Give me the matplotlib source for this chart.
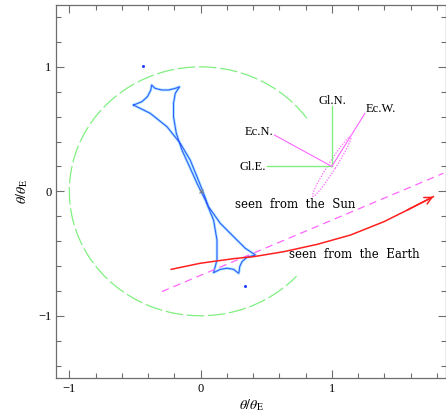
import numpy as np
import matplotlib
matplotlib.use("Agg")
import matplotlib.pyplot as plt
from matplotlib.patches import Arc, Ellipse

plt.rcParams['font.family'] = ['Liberation Serif', 'DejaVu Serif']
plt.rcParams['mathtext.fontset'] = 'stix'

# ---- data (units of theta_E) ----
# caustic: top cusps L -> T -> R
cau_top_x = [-0.511, -0.447, -0.405, -0.379, -0.373, -0.346, -0.295, -0.244, -0.193, -0.160]
cau_top_y = [0.693, 0.720, 0.760, 0.814, 0.854, 0.827, 0.814, 0.814, 0.827, 0.840]
# long edge from cusp R down to bottom-left cusp
cau_r_x = [-0.160, -0.193, -0.206, -0.206, -0.185, -0.142, -0.084, -0.027, 0.036, 0.099, 0.125, 0.125, 0.099]
cau_r_y = [0.840, 0.787, 0.707, 0.599, 0.466, 0.332, 0.198, 0.064, -0.070, -0.231, -0.391, -0.552, -0.654]
# bottom cusps BL -> BM -> BR
cau_bot_x = [0.099, 0.150, 0.202, 0.252, 0.290, 0.294, 0.298, 0.316, 0.354, 0.418]
cau_bot_y = [-0.654, -0.627, -0.618, -0.627, -0.659, -0.646, -0.606, -0.565, -0.530, -0.512]
# long edge from bottom-right cusp back up to cusp L
cau_l_x = [0.418, 0.341, 0.252, 0.150, 0.061, 0.023, -0.027, -0.079, -0.155, -0.256, -0.384, -0.511]
cau_l_y = [-0.512, -0.458, -0.365, -0.257, -0.124, -0.016, 0.117, 0.251, 0.386, 0.519, 0.627, 0.693]

lens_x = [-0.44, 0.336]
lens_y = [1.006, -0.758]

# source trajectory seen from the Earth
earth_x = [-0.224, -0.002, 0.252, 0.405, 0.634, 0.889, 1.143, 1.397, 1.576, 1.774]
earth_y = [-0.627, -0.578, -0.541, -0.525, -0.485, -0.426, -0.351, -0.244, -0.150, -0.043]
# seen from the Sun (straight)
sun_x = [-0.295, 1.850]
sun_y = [-0.806, 0.145]

# Einstein ring arc (degrees)
ring_from, ring_to = 36, 317

# direction cross
origin = (1.0, 0.2)
gl_n = (1.0, 0.685)
gl_e = (0.507, 0.2)
ec_n = (0.563, 0.452)
ec_w = (1.252, 0.626)
ell_w, ell_h, ell_ang = 0.56, 0.06, 59.0

green = '#80f080'
magenta = '#ff66ff'
red = '#ff2020'
gray = '#6e6e6e'

fig = plt.figure(figsize=(4.46, 4.2), dpi=100)
ax = fig.add_axes([0.126, 0.1, 0.874, 0.889])

# Einstein ring
ax.add_patch(Arc((0, 0), 2, 2, theta1=ring_from, theta2=ring_to, color=green,
                 lw=0.9, ls=(0, (14, 3))))

# caustic
cx = cau_top_x + cau_r_x[1:] + cau_bot_x[1:] + cau_l_x[1:]
cy = cau_top_y + cau_r_y[1:] + cau_bot_y[1:] + cau_l_y[1:]
ax.plot(cx, cy, color='#9ae6ff', lw=1.9, solid_joinstyle='round')
ax.plot(cx, cy, color='#3a55ff', lw=0.75, solid_joinstyle='round')
ax.plot(lens_x, lens_y, 'o', color='#2040ff', ms=2.2, mec='none')
ax.plot([0], [0], 'x', color='gray', ms=3, mew=0.8)

# trajectories
ax.plot(sun_x, sun_y, color=magenta, lw=0.9, ls=(0, (6, 4)))
ax.annotate('', xy=(sun_x[-1], sun_y[-1]), xytext=(sun_x[-2], sun_y[-2]),
            arrowprops=dict(arrowstyle='->', color=magenta, lw=0.9, mutation_scale=13,
                            shrinkA=0, shrinkB=0, linestyle='none'))
ax.plot(earth_x, earth_y, color=red, lw=1.1)
ax.annotate('', xy=(earth_x[-1], earth_y[-1]), xytext=(earth_x[-2], earth_y[-2]),
            arrowprops=dict(arrowstyle='->', color=red, lw=1.1, mutation_scale=13,
                            shrinkA=0, shrinkB=0))

# direction cross
ax.plot([origin[0], gl_n[0]], [origin[1], gl_n[1]], color=green, lw=1.0)
ax.plot([origin[0], gl_e[0]], [origin[1], gl_e[1]], color=green, lw=1.0)
ax.plot([origin[0], ec_n[0]], [origin[1], ec_n[1]], color=magenta, lw=0.8)
ax.plot([origin[0], ec_w[0]], [origin[1], ec_w[1]], color=magenta, lw=0.8)
ax.add_patch(Ellipse(origin, ell_w, ell_h, angle=ell_ang, fill=False, ec=magenta,
                     lw=0.9, ls=(0, (1, 1.2))))

tfs = 9
ax.text(1.003, 0.728, 'Gl.N.', fontsize=tfs, ha='center', va='center')
ax.text(1.26, 0.661, 'Ec.W.', fontsize=tfs, ha='left', va='center')
ax.text(0.557, 0.474, 'Ec.N.', fontsize=tfs, ha='right', va='center')
ax.text(0.499, 0.198, 'Gl.E.', fontsize=tfs, ha='right', va='center')
ax.text(0.265, -0.108, 'seen  from  the  Sun', fontsize=8.5, ha='left', va='center',
        family='DejaVu Serif')
ax.text(0.672, -0.506, 'seen  from  the  Earth', fontsize=8.5, ha='left', va='center',
        family='DejaVu Serif')

ax.set_xlim(-1.1, 1.87)
ax.set_ylim(-1.5, 1.5)
ax.set_xticks([-1, 0, 1])
ax.set_yticks([-1, 0, 1])
ax.set_xticklabels(['\u22121', '0', '1'])
ax.set_yticklabels(['\u22121', '0', '1'])
ax.set_xticks(np.arange(-1.0, 1.9, 0.2), minor=True)
ax.set_yticks(np.arange(-1.4, 1.5, 0.2), minor=True)
ax.tick_params(which='both', direction='in', top=True, right=True, color=gray,
               labelsize=9, width=0.8)
ax.tick_params(which='major', length=6)
ax.tick_params(which='minor', length=3.5)
for s in ax.spines.values():
    s.set_color(gray)
    s.set_linewidth(0.9)

ax.set_xlabel(r'$\theta/\theta_{\rm E}$', fontsize=10, labelpad=2)
ax.set_ylabel(r'$\theta/\theta_{\rm E}$', fontsize=10, labelpad=6)

fig.savefig('out.png', dpi=100)
